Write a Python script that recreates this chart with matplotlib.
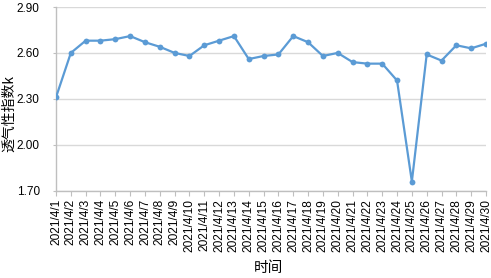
import matplotlib
matplotlib.use("Agg")
import matplotlib.pyplot as plt
from matplotlib import font_manager

dates = [f"2021/4/{d}" for d in range(1, 31)]
k_values = [
    2.31, 2.60, 2.68, 2.68, 2.69, 2.71, 2.67, 2.64, 2.60, 2.58,
    2.65, 2.68, 2.71, 2.56, 2.58, 2.59, 2.71, 2.67, 2.58, 2.60,
    2.54, 2.53, 2.53, 2.42, 1.76, 2.59, 2.55, 2.65, 2.63, 2.66,
]
y_ticks = [1.70, 2.00, 2.30, 2.60, 2.90]


def pick_font(names):
    for name in names:
        try:
            font_manager.findfont(name, fallback_to_default=False)
            return name
        except ValueError:
            continue
    return "DejaVu Sans"


narrow = pick_font(["Liberation Sans Narrow", "Liberation Sans"])
latin = pick_font(["Liberation Sans", "DejaVu Sans"])
cjk = ["Noto Sans CJK SC", "DejaVu Sans"]

line_color = "#5B9BD5"
axis_color = "#BFBFBF"
grid_color = "#D9D9D9"

fig = plt.figure(figsize=(4.91, 2.78), dpi=100)
ax = fig.add_axes([56 / 491, 1 - 190.7 / 278, 430 / 491, 183.7 / 278])

x = list(range(len(dates)))
ax.plot(x, k_values, color=line_color, lw=1.6, marker="o", ms=4.2,
        markeredgewidth=0, zorder=3)

ax.set_xlim(0, len(dates) - 1)
ax.set_ylim(1.70, 2.90)
ax.set_yticks(y_ticks)
ax.set_yticklabels([f"{v:.2f}" for v in y_ticks], fontfamily=narrow, fontsize=8.5)
ax.set_xticks(x)
ax.set_xticklabels(dates, rotation=90, fontfamily=latin, fontsize=8.6)

ax.grid(axis="y", color=grid_color, lw=1.0, zorder=0)
for side in ("top", "right"):
    ax.spines[side].set_visible(False)
for side in ("left", "bottom"):
    ax.spines[side].set_color(axis_color)
    ax.spines[side].set_linewidth(1.0)

ax.tick_params(axis="x", length=3.6, width=0.8, color=axis_color, pad=2.5)
ax.tick_params(axis="y", length=2.2, width=0.8, color=axis_color, pad=9.5)

ax.set_xlabel("时间", fontfamily=cjk, fontsize=10.5, va="center")
ax.xaxis.set_label_coords((268 - 56) / 430, (190.7 - 268) / 183.7)
ax.set_ylabel("透气性指数k", fontfamily=cjk, fontsize=10, va="center")
ax.yaxis.set_label_coords((9 - 56) / 430, (190.7 - 114) / 183.7)

fig.savefig("out.png", dpi=100)
